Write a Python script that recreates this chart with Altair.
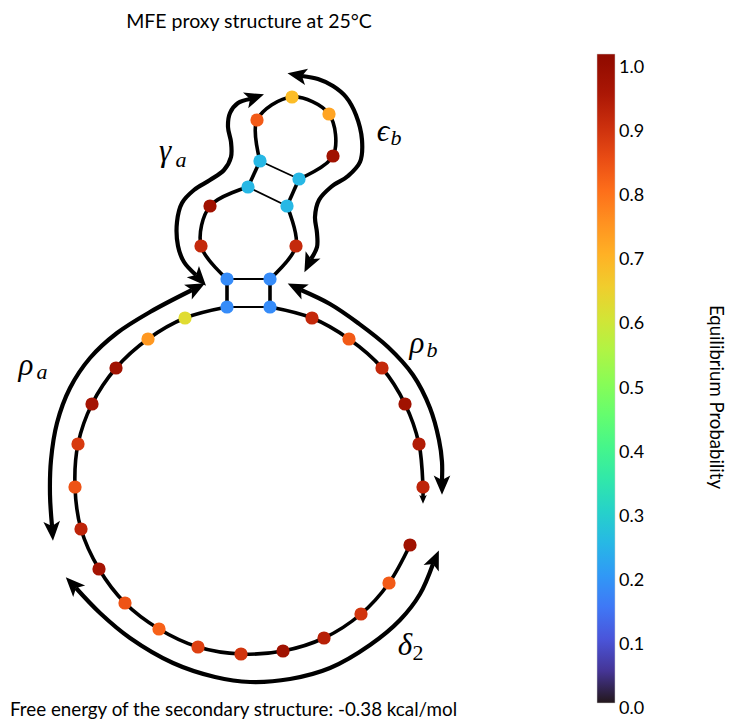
import altair as alt
import pandas as pd
import numpy as np

# ---------------- data ----------------
# nucleotide layout positions (5' -> 3') and equilibrium probabilities
nt_x = [410, 389, 361, 324, 283, 241, 198, 159, 125, 99, 81, 75, 78, 92, 116, 148, 185,
        227, 227, 201, 210, 248, 260, 257, 292, 329, 333, 299, 287, 296, 270, 270,
        312, 349, 382, 405, 419, 423]
nt_y = [545, 583, 614, 638, 651, 654, 647, 629, 603, 569, 529, 487, 444, 404, 368, 339, 318,
        307, 279, 246, 206, 187, 161, 120, 97, 114, 156, 179, 206, 246, 279, 307,
        318, 339, 368, 404, 444, 487]
nt_prob = [0.97, 0.83, 0.89, 0.93, 0.97, 0.89, 0.87, 0.82, 0.84, 0.96, 0.92, 0.84, 0.88,
           0.96, 0.97, 0.74, 0.62, 0.18, 0.18, 0.91, 0.97, 0.25, 0.25, 0.83, 0.68, 0.72,
           0.97, 0.25, 0.25, 0.91, 0.18, 0.18, 0.91, 0.83, 0.91, 0.97, 0.94, 0.92]

# base pairs (1-based nucleotide indices)
pairs = [(18, 32), (19, 31), (22, 29), (23, 28)]
# backbone pieces: loops (curved) and stem steps (straight)
pieces = [(1, 18), (18, 19), (19, 22), (22, 23), (23, 28), (28, 29), (29, 31), (31, 32), (32, 38)]
# 3' end tail of the strand
tail_x, tail_y = 423, 497

# annotation arrows (double headed), path points
arrows = {
    "rho_a": ([192, 150, 117, 90, 70, 57, 51, 50, 52],
              [290, 312, 333, 358, 388, 423, 460, 495, 526]),
    "rho_b": ([301, 330, 358, 388, 413, 430, 439, 442, 442],
              [290, 304, 323, 347, 375, 408, 440, 462, 480]),
    "delta_2": ([76, 100, 130, 173, 215, 250, 290, 330, 370, 400, 420, 433],
                [588, 613, 638, 663, 677, 682, 679, 668, 645, 620, 594, 564]),
    "gamma_a": ([250, 238, 230, 228, 231, 231, 224, 210, 194, 182, 177, 178, 184, 196],
                [99, 103, 113, 127, 142, 157, 170, 180, 190, 203, 222, 246, 262, 275]),
    "eps_b": ([302, 318, 333, 346, 356, 362, 360, 348, 331, 319, 315, 317, 317, 311],
              [76, 79, 86, 97, 115, 140, 162, 176, 187, 200, 217, 233, 247, 259]),
}

# labels
greek_sym = ["\u03c1", "\u03c1", "\u03b3", "\u03f5", "\u03b4"]
greek_x = [26, 417, 165, 383, 405]
greek_y = [375, 353, 161, 141, 655]
sub_txt = ["a", "b", "a", "b"]
sub_x = [42, 432, 181, 396]
sub_y = [379, 357, 167, 145]
num_sub_txt = ["2"]
num_sub_x = [418]
num_sub_y = [660]

title_text = "MFE proxy structure at 25\u00b0C"
footer_text = "Free energy of the secondary structure: -0.38 kcal/mol"
cbar_title = "Equilibrium Probability"
cbar_values = [0.0, 0.1, 0.2, 0.3, 0.4, 0.5, 0.6, 0.7, 0.8, 0.9, 1.0]
cbar_labels = ["0.0", "0.1", "0.2", "0.3", "0.4", "0.5", "0.6", "0.7", "0.8", "0.9", "1.0"]

# ---------------- tables ----------------
nt_df = pd.DataFrame({"x": nt_x, "y": nt_y, "p": nt_prob, "i": range(1, len(nt_x) + 1)})

bb_rows = []
for pid, (a, b) in enumerate(pieces):
    for k, i in enumerate(range(a, b + 1)):
        bb_rows.append(dict(piece=pid, o=k, x=nt_x[i - 1], y=nt_y[i - 1]))
bb_rows.append(dict(piece=len(pieces) - 1, o=pieces[-1][1] - pieces[-1][0] + 1, x=tail_x, y=tail_y))
bb_df = pd.DataFrame(bb_rows)

pair_df = pd.DataFrame({
    "x": [nt_x[a - 1] for a, b in pairs], "y": [nt_y[a - 1] for a, b in pairs],
    "x2": [nt_x[b - 1] for a, b in pairs], "y2": [nt_y[b - 1] for a, b in pairs],
})

ar_rows, head_rows = [], []
def head_angle(x0, y0, x1, y1):
    # direction from (x0,y0) to (x1,y1) in screen coordinates (y down)
    return float(np.degrees(np.arctan2(x1 - x0, -(y1 - y0))) % 360)

for name, (xs, ys) in arrows.items():
    for k, (xx, yy) in enumerate(zip(xs, ys)):
        ar_rows.append(dict(arrow=name, o=k, x=xx, y=yy))
    head_rows.append(dict(x=xs[0], y=ys[0], a=head_angle(xs[1], ys[1], xs[0], ys[0])))
    head_rows.append(dict(x=xs[-1], y=ys[-1], a=head_angle(xs[-2], ys[-2], xs[-1], ys[-1])))
ar_df = pd.DataFrame(ar_rows)
head_df = pd.DataFrame(head_rows)
tail_df = pd.DataFrame([dict(x=tail_x, y=tail_y, a=head_angle(nt_x[-1], nt_y[-1], tail_x, tail_y))])
cbar_df = pd.DataFrame({"v": cbar_values, "t": cbar_labels})

# ---------------- chart ----------------
X = alt.X("x:Q", scale=alt.Scale(domain=[0, 730], nice=False, zero=False), axis=None)
Y = alt.Y("y:Q", scale=alt.Scale(domain=[0, 719], nice=False, zero=False, reverse=True), axis=None)
PMAX = 1.0125

HEAD = "M0,-1.6 L0.9,0.5 L0,0 L-0.9,0.5 Z"

backbone = alt.Chart(bb_df).mark_line(color="black", strokeWidth=3.6, interpolate="catmull-rom").encode(
    x=X, y=Y, detail="piece:N", order="o:Q")

bp = alt.Chart(pair_df).mark_rule(color="black", strokeWidth=1.8).encode(
    x=X, y=Y, x2="x2:Q", y2="y2:Q")

arrow_lines = alt.Chart(ar_df).mark_line(color="black", strokeWidth=4.2, interpolate="catmull-rom").encode(
    x=X, y=Y, detail="arrow:N", order="o:Q")

heads = alt.Chart(head_df).mark_point(shape=HEAD, filled=True, color="black", size=340,
                                       opacity=1, strokeWidth=0).encode(
    x=X, y=Y, angle=alt.Angle("a:Q", scale=None))

tail_head = alt.Chart(tail_df).mark_point(shape=HEAD, filled=True, color="black", size=70,
                                          opacity=1, strokeWidth=0).encode(
    x=X, y=Y, angle=alt.Angle("a:Q", scale=None))

dots = alt.Chart(nt_df).mark_circle(size=175, opacity=1, strokeWidth=0).encode(
    x=X, y=Y,
    color=alt.Color("p:Q",
                    scale=alt.Scale(scheme="turbo", domain=[0, PMAX]),
                    legend=alt.Legend(orient="none", legendX=597, legendY=54, direction="vertical",
                                      title=None, gradientLength=649, gradientThickness=18,
                                      values=cbar_values, labelExpr="''",
                                      padding=0, gradientStrokeColor="#cccccc",
                                      gradientStrokeWidth=0.5)))

# colour-bar tick labels, placed on a value scale that spans the gradient
cbar_text = alt.Chart(cbar_df).mark_text(font="Lato", fontSize=18, align="left", baseline="middle",
                                         dy=6, color="black").encode(
    x=alt.value(619),
    y=alt.Y("v:Q", scale=alt.Scale(domain=[0, PMAX], range=[703, 54], nice=False, zero=False), axis=None),
    text="t:N")

greek_df = pd.DataFrame({"x": greek_x, "y": greek_y, "t": greek_sym})
sub_df = pd.DataFrame({"x": sub_x, "y": sub_y, "t": sub_txt})
num_df = pd.DataFrame({"x": num_sub_x, "y": num_sub_y, "t": num_sub_txt})

greek = alt.Chart(greek_df).mark_text(font="Liberation Serif", fontStyle="italic", fontSize=31,
                                      align="center", baseline="alphabetic", color="black").encode(
    x=X, y=Y, text="t:N")
subs = alt.Chart(sub_df).mark_text(font="Liberation Serif", fontStyle="italic", fontSize=22,
                                   align="center", baseline="alphabetic", color="black").encode(
    x=X, y=Y, text="t:N")
nums = alt.Chart(num_df).mark_text(font="Liberation Serif", fontSize=22,
                                   align="center", baseline="alphabetic", color="black").encode(
    x=X, y=Y, text="t:N")

title = alt.Chart(pd.DataFrame({"x": [249], "y": [28], "t": [title_text]})).mark_text(
    font="Lato", fontSize=19.5, align="center", baseline="alphabetic", color="black").encode(
    x=X, y=Y, text="t:N")
footer = alt.Chart(pd.DataFrame({"x": [10], "y": [716], "t": [footer_text]})).mark_text(
    font="Lato", fontSize=18.8, align="left", baseline="alphabetic", color="black").encode(
    x=X, y=Y, text="t:N")
ctitle = alt.Chart(pd.DataFrame({"x": [716], "y": [397], "t": [cbar_title]})).mark_text(
    font="Lato", fontSize=18.6, align="center", baseline="middle", angle=90, color="black").encode(
    x=X, y=Y, text="t:N")

chart = alt.layer(backbone, bp, arrow_lines, heads, tail_head, dots, greek, subs, nums,
                  title, footer, ctitle, cbar_text).resolve_scale(y="independent").properties(
    width=730, height=719, padding=0, autosize=alt.AutoSizeParams(type="none")
).configure_view(stroke=None)

chart.save("out.html", embed_options={"renderer": "svg", "actions": False})
